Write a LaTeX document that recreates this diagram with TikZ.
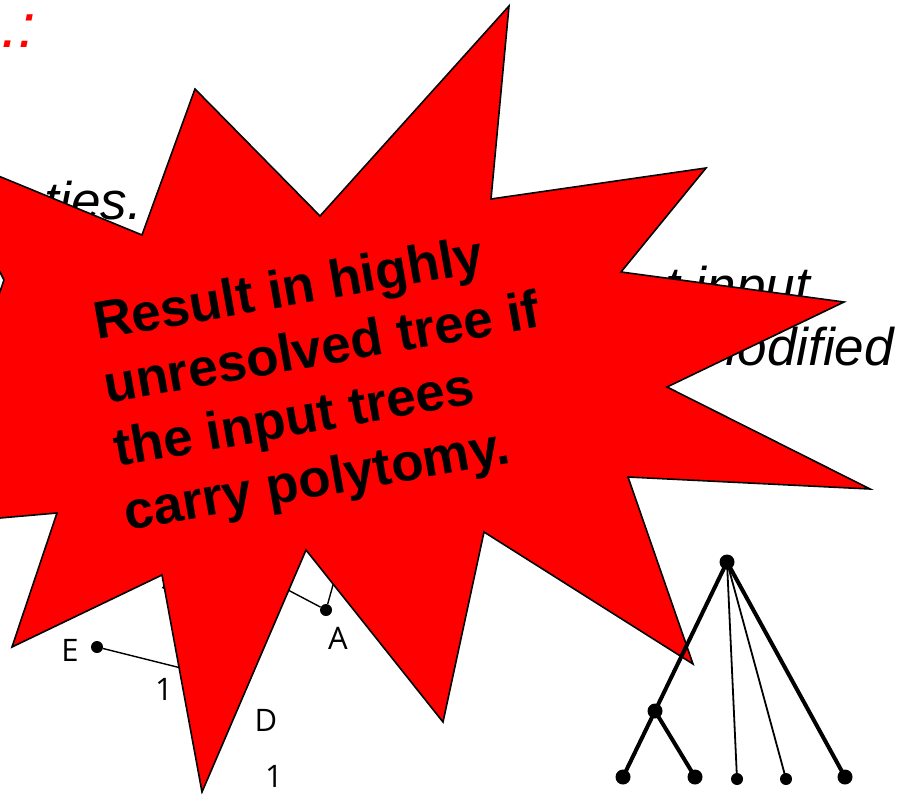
\documentclass[tikz,border=0pt]{standalone}
\usepackage{fontspec}
\setmainfont{Liberation Sans}
\newfontfamily\labfont{Open Sans}
\begin{document}
\begin{tikzpicture}[x=1pt,y=-1pt,
  dot/.style={circle,fill=black,inner sep=0pt,minimum size=#1},
  bodytext/.style={anchor=base east,inner sep=0pt,font=\fontsize{53}{63}\selectfont\itshape},
  startext/.style={anchor=base west,inner sep=0pt,rotate=10,font=\fontsize{53}{63}\selectfont\bfseries},
  lab/.style={inner sep=0pt,font=\labfont\fontsize{31}{36}\selectfont},
  thin edge/.style={line width=1.4pt},
  thick edge/.style={line width=4pt},
  fine edge/.style={line width=1.8pt}]
\useasboundingbox (0,0) rectangle (901,794);
\clip (0,0) rectangle (901,794);
% background slide text
\node[anchor=base west,inner sep=0pt,text=red,font=\fontsize{62}{70}\selectfont\itshape] (title) at (1,48) {.:};
\node[bodytext] (t1) at (142,220) {ties.};
\node[bodytext] (t2) at (810,304) {t input};
\node[bodytext] (t3) at (894,365) {modified};
% left tree (partly hidden)
\node[dot=12pt] (E) at (97,647) {};
\node[dot=12pt] (A) at (326,610) {};
\coordinate (u) at (205,674);
\coordinate (v1) at (270,580.5);
\coordinate (v2) at (338,567);
\draw[thin edge] (E) -- (u);
\draw[thin edge] (A) -- (v1);
\draw[thin edge] (A) -- (v2);
\node[lab] (lE) at (70,650) {E};
\node[lab] (lA) at (338,638) {A};
\node[lab] (lD) at (266,720) {D};
\node[lab] (n1) at (168,594) {1};
\node[lab] (n2) at (164,689) {1};
\node[lab] (n3) at (274,776) {1};
% explosion
\draw[fill=red,line width=1.6pt,line join=miter]
  (509,6) -- (491,199) -- (706,168) -- (621,272) -- (844,302) -- (667,387)
  -- (870,489) -- (628,477) -- (693,664) -- (484,532) -- (443,722) -- (306,550)
  -- (202,792) -- (162,575) -- (12,647) -- (57,513) -- (-80,525) -- (4,280)
  -- (-60,152) -- (142,235) -- (195,89) -- (320,216) -- cycle;
\node[startext] (s1) at (97,340) {Result in highly};
\node[startext] (s2) at (107,403.5) {unresolved tree if};
\node[startext] (s3) at (117,467) {the input trees};
\node[startext] (s4) at (127,530.5) {carry polytomy.};
% right tree
\node[dot=15pt] (R) at (727,562) {};
\node[dot=15pt] (I) at (655,711) {};
\node[dot=15pt] (L1) at (623,777) {};
\node[dot=15pt] (L2) at (695,777) {};
\node[dot=12pt] (L3) at (737,779) {};
\node[dot=12pt] (L4) at (786,779) {};
\node[dot=15pt] (L5) at (845,777) {};
\draw[thick edge] (R.center) -- (I.center);
\draw[thick edge] (I.center) -- (L1.center);
\draw[thick edge] (I.center) -- (L2.center);
\draw[thick edge] (R.center) -- (L5.center);
\draw[fine edge] (R.center) -- (L3.center);
\draw[fine edge] (R.center) -- (L4.center);
\end{tikzpicture}
\end{document}
